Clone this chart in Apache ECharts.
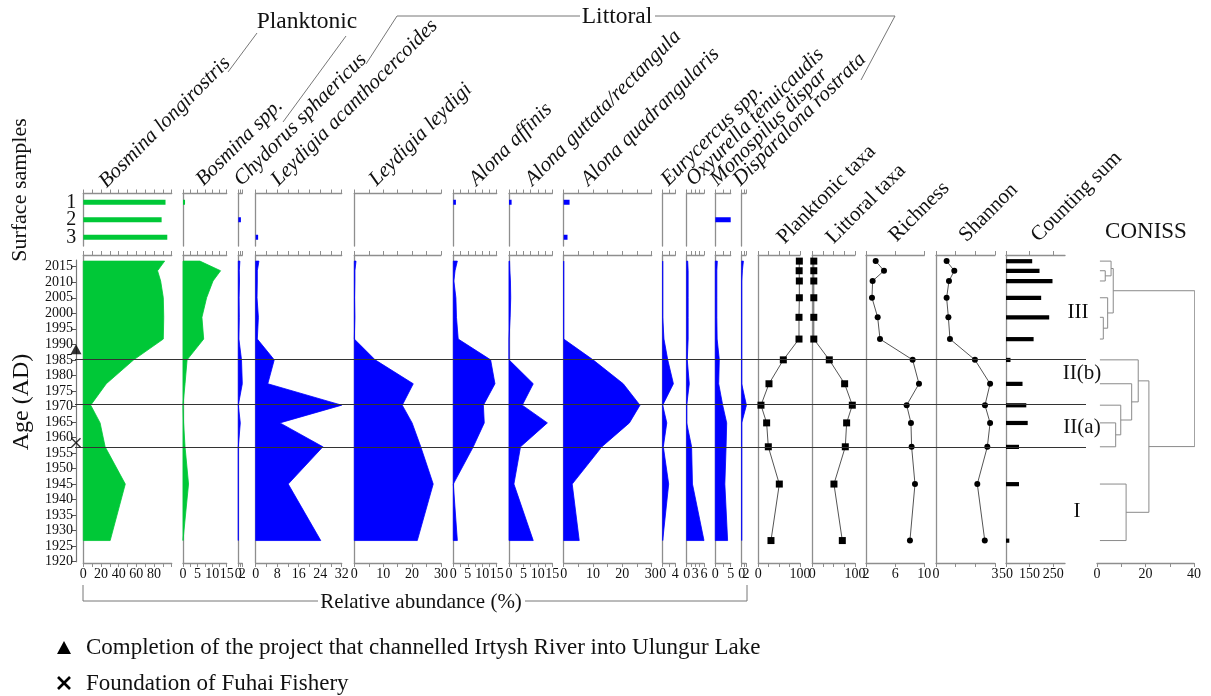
<!DOCTYPE html>
<html>
<head>
<meta charset="utf-8">
<title>Cladocera stratigraphy</title>
<script src="https://cdn.jsdelivr.net/npm/echarts@6.0.0/dist/echarts.min.js"></script>
<style>
  html, body { margin: 0; padding: 0; background: #fff; }
  #chart { width: 1211px; height: 696px; }
</style>
</head>
<body>
<div id="chart"></div>
<script>
// core sample ages (AD), top to bottom
const years = [2016.8, 2013.7, 2010.4, 2005.0, 1998.7, 1991.7, 1985.0, 1977.3, 1970.4, 1964.7, 1957.0, 1945.0, 1926.8];

const taxa = ['Bosmina longirostris', 'Bosmina spp.', 'Chydorus sphaericus', 'Leydigia acanthocercoides',
  'Leydigia leydigi', 'Alona affinis', 'Alona guttata/rectangula', 'Alona quadrangularis',
  'Eurycercus spp.', 'Oxyurella tenuicaudis', 'Monospilus dispar', 'Disparalona rostrata'];

// relative abundance (%) in the core
const bosminaLongirostris = [92, 84, 87.5, 90.5, 91, 90.5, 57, 26, 8.4, 19, 24.7, 47.5, 30.4];
const bosminaSpp = [5.8, 12.9, 10.3, 8.1, 6.5, 7.1, 1.4, 0.7, 0, 0.2, 0.7, 1.9, 0];
const chydorusSphaericus = [0.8, 0.5, 0.6, 0.4, 0.5, 0.3, 1.6, 2.0, 0, 1.0, 0, 0, 0];
const leydigiaAcanthocercoides = [1.2, 0.6, 0.6, 0.5, 1.0, 0.6, 6.9, 4.5, 32, 9, 25, 12.1, 24.2];
const leydigiaLeydigi = [0.6, 0.2, 0.2, 0.1, 0.2, 0, 7.2, 20.4, 16.6, 20, 23, 27.3, 21.8];
const alonaAffinis = [1.4, 0.6, 0.2, 0.9, 1.1, 1.7, 12.9, 14.4, 10.4, 10.7, 6.9, 0, 1.4];
const alonaGuttata = [0.2, 0.3, 0.5, 0.6, 0.4, 0, 0, 8.4, 4.6, 13.3, 4.0, 1.7, 8.4];
const alonaQuadrangularis = [0, 0, 0, 0, 0, 0, 10, 20.3, 26, 22.4, 13, 2.9, 5.3];
const eurycercusSpp = [0, 0, 0, 0, 0, 0.4, 1.6, 3.4, 0, 1.3, 0.2, 1.9, 0];
const oxyurellaTenuicaudis = [0.35, 0.5, 0.5, 0.5, 0.5, 0.5, 0.2, 0.9, 0, 0, 1.7, 2.0, 6.0];
const monospilusDispar = [0.65, 0.5, 0.5, 0.5, 0.5, 0.6, 1.3, 1.1, 2.4, 3.7, 3.5, 3.1, 4.0];
const disparalonaRostrata = [0.8, 0.3, 0, 0, 0, 0, 0, 0, 2.2, 0, 0, 0, 0];

// surface samples 1-3
const surfaceSamples = ['1', '2', '3'];
const surfBosminaLongirostris = [93, 88.6, 95];
const surfBosminaSpp = [0.7, 0, 0];
const surfChydorusSphaericus = [0, 1.3, 0];
const surfLeydigiaAcanthocercoides = [0, 0, 0.9];
const surfLeydigiaLeydigi = [0, 0, 0];
const surfAlonaAffinis = [0.9, 0, 0];
const surfAlonaGuttata = [0.9, 0, 0];
const surfAlonaQuadrangularis = [2.0, 0, 1.3];
const surfEurycercusSpp = [0, 0, 0];
const surfOxyurellaTenuicaudis = [0, 0, 0];
const surfMonospilusDispar = [0, 7.0, 0];
const surfDisparalonaRostrata = [0, 0, 0];

// summary curves
const planktonicTaxa = [98.4, 98, 98.4, 98.4, 97.6, 97.6, 60, 25.6, 6.4, 20, 24, 50.4, 30.4];
const littoralTaxa = [3.5, 3.5, 3.5, 3.5, 3.5, 3.5, 39.8, 75.7, 93.7, 80.4, 77.3, 50.7, 70.3];
const richness = [3.33, 4.47, 2.91, 2.82, 3.6, 3.92, 8.4, 9.27, 7.58, 8.17, 8.26, 8.72, 8.03];
const shannon = [0.54, 0.93, 0.66, 0.54, 0.63, 0.71, 1.98, 2.75, 2.49, 2.75, 2.61, 2.1, 2.48];
const countingSum = [161, 192, 247, 199, 233, 167, 69, 120, 136, 142, 105, 105, 64];

// axis labels
const labelsBosminaLongirostris = [0, 20, 40, 60, 80];
const labelsBosminaSpp = [0, 5, 10, 15];
const labelsChydorus = [0, 2];
const labelsLeydigiaAcanth = [0, 8, 16, 24, 32];
const labelsLeydigiaLeydigi = [0, 10, 20, 30];
const labelsAlonaAffinis = [0, 5, 10, 15];
const labelsAlonaGuttata = [0, 5, 10, 15];
const labelsAlonaQuadr = [0, 10, 20, 30];
const labelsEurycercus = [0, 4];
const labelsOxyurella = [0, 3, 6];
const labelsMonospilus = [0, 5];
const labelsDisparalona = [0, 2];
const labelsPercent = [0, 100];
const labelsRichness = [2, 6, 10];
const labelsShannon = [0, 3];
const labelsCountingSum = [50, 150, 250];
const labelsConiss = [0, 20, 40];

// CONISS: [child A, child B, total sum of squares]; numbers are samples, 'mN' earlier merges
const conissMerges = [
  [1, 2, 3.4],
  [0, 'm0', 5.8],
  [4, 5, 2.6],
  [3, 'm2', 4.4],
  ['m1', 'm3', 6.7],
  [9, 10, 7.7],
  [8, 'm5', 9.8],
  [7, 'm6', 14.3],
  [6, 'm7', 17.0],
  [11, 12, 12.0],
  ['m8', 'm9', 21.4],
  ['m4', 'm10', 40.3]
];
const conissLeaf = 1.2;

const zoneBoundaries = [1985.2, 1970.6, 1956.9];
const zoneNames = ['III', 'II(b)', 'II(a)', 'I'];

const eventYears = [1988.4, 1958.3];
const eventNotes = ['Completion of the project that channelled Irtysh River into Ulungur Lake', 'Foundation of Fuhai Fishery'];

// ---------------------------------------------------------------
const GREEN = '#00c837';
const BLUE = '#0000ff';
const AXIS_GRAY = '#8e8e8e';
const FONT = '"Liberation Serif", "DejaVu Serif", serif';

const PX_2015 = 266.7;
const PX_PER_YEAR = 3.105;
const yearAt = px => 2015 + (PX_2015 - px) / PX_PER_YEAR;
const PANEL_TOP = 255;
const PANEL_BOTTOM = 563;
const SURF_TOP = 193.5;
const SURF_BOTTOM = 246;

const grid = [];
const xAxis = [];
const yAxis = [];
const series = [];

const labelFilter = labels => v => labels.some(l => Math.abs(l - v) < 1e-6) ? String(v) : '';

function addGrid (left, right, top, bottom) {
  grid.push({ left: left, width: right - left, top: top, height: bottom - top });
  return grid.length - 1;
}

function makeXAxis (g, p, position, withLabels) {
  const ax = {
    gridIndex: g,
    type: 'value',
    position: position,
    min: p.min,
    max: p.max,
    splitLine: { show: false },
    axisLine: { show: true, onZero: false, lineStyle: { color: AXIS_GRAY, width: 1.3 } },
    axisTick: { show: true, length: 4, lineStyle: { color: AXIS_GRAY, width: 1 } },
    axisLabel: withLabels ? {
      formatter: labelFilter(p.labels),
      fontFamily: FONT, fontSize: 14, color: '#111', margin: 4,
      showMinLabel: true, showMaxLabel: true
    } : { show: false }
  }
  if (p.ticks) {
    ax.axisTick.customValues = p.ticks
    if (withLabels) ax.axisLabel.customValues = p.ticks
  } else {
    ax.interval = p.interval
  }
  xAxis.push(ax)
  return xAxis.length - 1
}

function makeYAxis (g, showLine) {
  yAxis.push({
    gridIndex: g,
    type: 'value',
    min: yearAt(PANEL_BOTTOM),
    max: yearAt(PANEL_TOP),
    axisLine: { show: showLine, onZero: false, lineStyle: { color: AXIS_GRAY, width: 1.3 } },
    axisTick: { show: false },
    axisLabel: { show: false },
    splitLine: { show: false }
  })
  return yAxis.length - 1
}

function addPanel (p, withTop) {
  const g = addGrid(p.left, p.right, PANEL_TOP, PANEL_BOTTOM)
  const xb = makeXAxis(g, p, 'bottom', true)
  if (withTop !== false) makeXAxis(g, p, 'top', false)
  const yi = makeYAxis(g, p.vline !== false)
  return { xb: xb, yi: yi }
}

const areaRenderer = (vals, color) => (params, api) => {
  if (params.dataIndex !== 0) return null
  const pts = [api.coord([0, years[0]])]
  vals.forEach((v, i) => pts.push(api.coord([v, years[i]])))
  pts.push(api.coord([0, years[years.length - 1]]))
  return {
    type: 'polygon',
    shape: { points: pts },
    style: { fill: color, stroke: color, lineWidth: 0.8 }
  }
}

// species panels
const speciesPanels = [
  { data: bosminaLongirostris, surface: surfBosminaLongirostris, color: GREEN, left: 83.3, right: 171.7, min: 0, max: 100, interval: 10, labels: labelsBosminaLongirostris, title: [110, 192] },
  { data: bosminaSpp, surface: surfBosminaSpp, color: GREEN, left: 183, right: 226.7, min: 0, max: 15, interval: 2.5, labels: labelsBosminaSpp, title: [207, 190] },
  { data: chydorusSphaericus, surface: surfChydorusSphaericus, color: BLUE, left: 238.3, right: 242.3, min: 0, max: 2, interval: 1, labels: labelsChydorus, title: [245, 190] },
  { data: leydigiaAcanthocercoides, surface: surfLeydigiaAcanthocercoides, color: BLUE, left: 255.7, right: 341.7, min: 0, max: 32, interval: 4, labels: labelsLeydigiaAcanth, title: [282, 190] },
  { data: leydigiaLeydigi, surface: surfLeydigiaLeydigi, color: BLUE, left: 354.3, right: 441, min: 0, max: 30, interval: 5, labels: labelsLeydigiaLeydigi, title: [380, 190] },
  { data: alonaAffinis, surface: surfAlonaAffinis, color: BLUE, left: 453.3, right: 496.7, min: 0, max: 15, interval: 2.5, labels: labelsAlonaAffinis, title: [480, 190] },
  { data: alonaGuttata, surface: surfAlonaGuttata, color: BLUE, left: 509, right: 552.3, min: 0, max: 15, interval: 2.5, labels: labelsAlonaGuttata, title: [536, 190] },
  { data: alonaQuadrangularis, surface: surfAlonaQuadrangularis, color: BLUE, left: 563.7, right: 651.7, min: 0, max: 30, interval: 5, labels: labelsAlonaQuadr, title: [592, 190] },
  { data: eurycercusSpp, surface: surfEurycercusSpp, color: BLUE, left: 662.7, right: 675.3, min: 0, max: 4, interval: 2, labels: labelsEurycercus, title: [672, 190] },
  { data: oxyurellaTenuicaudis, surface: surfOxyurellaTenuicaudis, color: BLUE, left: 686.7, right: 704, min: 0, max: 6, interval: 1.5, labels: labelsOxyurella, title: [697, 190] },
  { data: monospilusDispar, surface: surfMonospilusDispar, color: BLUE, left: 715.3, right: 730.7, min: 0, max: 5, interval: 2.5, labels: labelsMonospilus, title: [721, 190] },
  { data: disparalonaRostrata, surface: surfDisparalonaRostrata, color: BLUE, left: 741.7, right: 746, min: 0, max: 2, interval: 1, labels: labelsDisparalona, title: [744, 190] }
]

speciesPanels.forEach((p, k) => {
  const ax = addPanel(p)
  series.push({
    type: 'custom',
    coordinateSystem: 'cartesian2d',
    xAxisIndex: ax.xb,
    yAxisIndex: ax.yi,
    data: years.map((y, i) => [p.data[i], y]),
    encode: { x: 0, y: 1 },
    renderItem: areaRenderer(p.data, p.color),
    silent: true,
    z: 3
  })

  // surface samples
  const g = addGrid(p.left, p.right, SURF_TOP, SURF_BOTTOM)
  const sx = makeXAxis(g, p, 'top', false)
  yAxis.push({
    gridIndex: g,
    type: 'category',
    inverse: true,
    data: surfaceSamples,
    axisLine: { show: true, onZero: false, lineStyle: { color: AXIS_GRAY, width: 1.3 } },
    axisTick: { show: false },
    axisLabel: k === 0 ? { show: true, interval: 0, fontFamily: FONT, fontSize: 20, color: '#111', margin: 7 } : { show: false },
    splitLine: { show: false }
  })
  series.push({
    type: 'bar',
    xAxisIndex: sx,
    yAxisIndex: yAxis.length - 1,
    data: p.surface,
    barWidth: 5,
    itemStyle: { color: p.color },
    silent: true
  })
})

// summary panels
const summaryPanels = [
  { data: planktonicTaxa, symbol: 'rect', size: 7, left: 758.3, right: 800, min: 0, max: 100, interval: 25, labels: labelsPercent },
  { data: littoralTaxa, symbol: 'rect', size: 7, left: 812.3, right: 855, min: 0, max: 100, interval: 25, labels: labelsPercent },
  { data: richness, symbol: 'circle', size: 6, left: 866, right: 924.3, min: 2, max: 10, ticks: labelsRichness, labels: labelsRichness },
  { data: shannon, symbol: 'circle', size: 6, left: 936, right: 995, min: 0, max: 3, interval: 1, labels: labelsShannon }
]

summaryPanels.forEach(p => {
  const ax = addPanel(p)
  series.push({
    type: 'line',
    xAxisIndex: ax.xb,
    yAxisIndex: ax.yi,
    data: years.map((y, i) => [p.data[i], y]),
    symbol: p.symbol,
    symbolSize: p.size,
    showSymbol: true,
    itemStyle: { color: '#000' },
    lineStyle: { color: '#555', width: 1 },
    silent: true,
    z: 4
  })
})

// counting sum
const countPanel = { left: 1006, right: 1065, min: 50, max: 300, ticks: labelsCountingSum, labels: labelsCountingSum }
const countAx = addPanel(countPanel)
series.push({
  type: 'custom',
  coordinateSystem: 'cartesian2d',
  xAxisIndex: countAx.xb,
  yAxisIndex: countAx.yi,
  data: years.map((y, i) => [countingSum[i], y]),
  encode: { x: 0, y: 1 },
  renderItem: (params, api) => {
    const y = api.value(1)
    const p0 = api.coord([countPanel.min, y])
    const p1 = api.coord([api.value(0), y])
    return { type: 'rect', shape: { x: p0[0], y: p0[1] - 2, width: p1[0] - p0[0], height: 4.2 }, style: { fill: '#000' } }
  },
  silent: true
})

// CONISS dendrogram
const conissPanel = { left: 1097, right: 1194, min: 0, max: 40, interval: 10, labels: labelsConiss, vline: false }
const conissAx = addPanel(conissPanel, false)
const nodePos = {}
years.forEach((y, i) => { nodePos[i] = [conissLeaf, y] })
const dendroLines = conissMerges.map((m, k) => {
  const a = nodePos[m[0]]
  const b = nodePos[m[1]]
  nodePos['m' + k] = [m[2], (a[1] + b[1]) / 2]
  return { coords: [[a[0], a[1]], [m[2], a[1]], [m[2], b[1]], [b[0], b[1]]] }
})
series.push({
  type: 'lines',
  coordinateSystem: 'cartesian2d',
  xAxisIndex: conissAx.xb,
  yAxisIndex: conissAx.yi,
  polyline: true,
  data: dendroLines,
  lineStyle: { color: '#8a8a8a', width: 1, opacity: 1 },
  silent: true
})

// age axis with events
const ageGrid = addGrid(76, 77, 260, 561.7)
xAxis.push({ gridIndex: ageGrid, type: 'value', min: 0, max: 1, show: false })
yAxis.push({
  gridIndex: ageGrid,
  type: 'value',
  min: 1920,
  max: yearAt(260),
  interval: 5,
  axisLine: { show: true, onZero: false, lineStyle: { color: '#777', width: 1.2 } },
  axisTick: { show: true, length: 4, lineStyle: { color: '#555' } },
  axisLabel: { formatter: v => String(v), fontFamily: FONT, fontSize: 14, color: '#111', margin: 3, showMaxLabel: false },
  splitLine: { show: false }
})
const X_PATH = 'path://M1,0 L5,4 L9,0 L10,1 L6,5 L10,9 L9,10 L5,6 L1,10 L0,9 L4,5 L0,1 Z'
series.push({
  type: 'scatter',
  xAxisIndex: xAxis.length - 1,
  yAxisIndex: yAxis.length - 1,
  data: [
    { value: [0, eventYears[0]], symbol: 'triangle', symbolSize: [11, 10] },
    { value: [0, eventYears[1]], symbol: X_PATH, symbolSize: 10 }
  ],
  itemStyle: { color: '#000' },
  silent: true,
  z: 6
})

// zone boundaries across the diagram
const zoneGrid = addGrid(75, 1086, PANEL_TOP, PANEL_BOTTOM)
xAxis.push({ gridIndex: zoneGrid, type: 'value', min: 0, max: 1, show: false })
yAxis.push({ gridIndex: zoneGrid, type: 'value', min: yearAt(PANEL_BOTTOM), max: yearAt(PANEL_TOP), show: false })
series.push({
  type: 'line',
  xAxisIndex: xAxis.length - 1,
  yAxisIndex: yAxis.length - 1,
  data: [[0, 2000]],
  showSymbol: false,
  lineStyle: { opacity: 0 },
  markLine: {
    silent: true,
    symbol: 'none',
    label: { show: false },
    lineStyle: { color: '#333', width: 1, type: 'solid' },
    data: zoneBoundaries.map(v => ({ yAxis: v }))
  },
  z: 5
})

// ---------------------------------------------------------------
const textEl = (x, y, text, opts) => ({
  type: 'text',
  x: x,
  y: y,
  rotation: opts.rotation || 0,
  silent: true,
  style: {
    text: text,
    font: opts.font,
    fill: '#111',
    textAlign: opts.align || 'left',
    textVerticalAlign: opts.valign || 'bottom',
    align: opts.align || 'left',
    verticalAlign: opts.valign || 'bottom'
  }
})

const lineEl = points => ({
  type: 'polyline',
  silent: true,
  shape: { points: points },
  style: { stroke: '#777', fill: null, lineWidth: 1 }
})

const graphic = []
speciesPanels.forEach((p, k) => {
  graphic.push(textEl(p.title[0], p.title[1], taxa[k], { rotation: Math.PI / 4, font: 'italic 21px ' + FONT }))
})
const summaryTitles = [['Planktonic taxa', 788, 248], ['Littoral taxa', 837, 248], ['Richness', 900, 246], ['Shannon', 970, 246], ['Counting sum', 1042, 246]]
summaryTitles.forEach(t => graphic.push(textEl(t[1], t[2], t[0], { rotation: Math.PI / 4, font: '21px ' + FONT })))

graphic.push(textEl(1146, 232, 'CONISS', { font: '23px ' + FONT, align: 'center', valign: 'middle' }))
graphic.push(textEl(20, 190, 'Surface samples', { rotation: Math.PI / 2, font: '22px ' + FONT, align: 'center', valign: 'middle' }))
graphic.push(textEl(22, 402, 'Age (AD)', { rotation: Math.PI / 2, font: '24px ' + FONT, align: 'center', valign: 'middle' }))

// group brackets
graphic.push(textEl(307, 22, 'Planktonic', { font: '23.5px ' + FONT, align: 'center', valign: 'middle' }))
graphic.push(lineEl([[257, 33], [228, 72]]))
graphic.push(lineEl([[346, 36], [283, 122]]))
graphic.push(textEl(617, 17, 'Littoral', { font: '23.5px ' + FONT, align: 'center', valign: 'middle' }))
graphic.push(lineEl([[366, 64], [397, 16], [580, 16]]))
graphic.push(lineEl([[655, 16], [895, 16], [861, 80]]))

// relative abundance bracket
graphic.push(lineEl([[83, 585], [83, 601], [318, 601]]))
graphic.push(lineEl([[525, 601], [747, 601], [747, 585]]))
graphic.push(textEl(421, 602, 'Relative abundance (%)', { font: '21px ' + FONT, align: 'center', valign: 'middle' }))

// zone names
const zoneLabelPos = [[1078, 312], [1082, 373], [1082, 427], [1077, 511]]
zoneNames.forEach((z, i) => graphic.push(textEl(zoneLabelPos[i][0], zoneLabelPos[i][1], z, { font: '21px ' + FONT, align: 'center', valign: 'middle' })))

// event notes
graphic.push({ type: 'polygon', silent: true, shape: { points: [[57, 654], [71, 654], [64, 641]] }, style: { fill: '#000' } })
graphic.push({ type: 'polyline', silent: true, shape: { points: [[58, 677], [70, 689]] }, style: { stroke: '#000', lineWidth: 2.6 } })
graphic.push({ type: 'polyline', silent: true, shape: { points: [[70, 677], [58, 689]] }, style: { stroke: '#000', lineWidth: 2.6 } })
graphic.push(textEl(86, 648, eventNotes[0], { font: '23px ' + FONT, valign: 'middle' }))
graphic.push(textEl(86, 684, eventNotes[1], { font: '23px ' + FONT, valign: 'middle' }))

const chart = echarts.init(document.getElementById('chart'), null, { renderer: 'canvas' })
chart.setOption({
  backgroundColor: '#fff',
  animation: false,
  textStyle: { fontFamily: FONT },
  grid: grid,
  xAxis: xAxis,
  yAxis: yAxis,
  series: series,
  graphic: graphic
})
</script>
</body>
</html>
